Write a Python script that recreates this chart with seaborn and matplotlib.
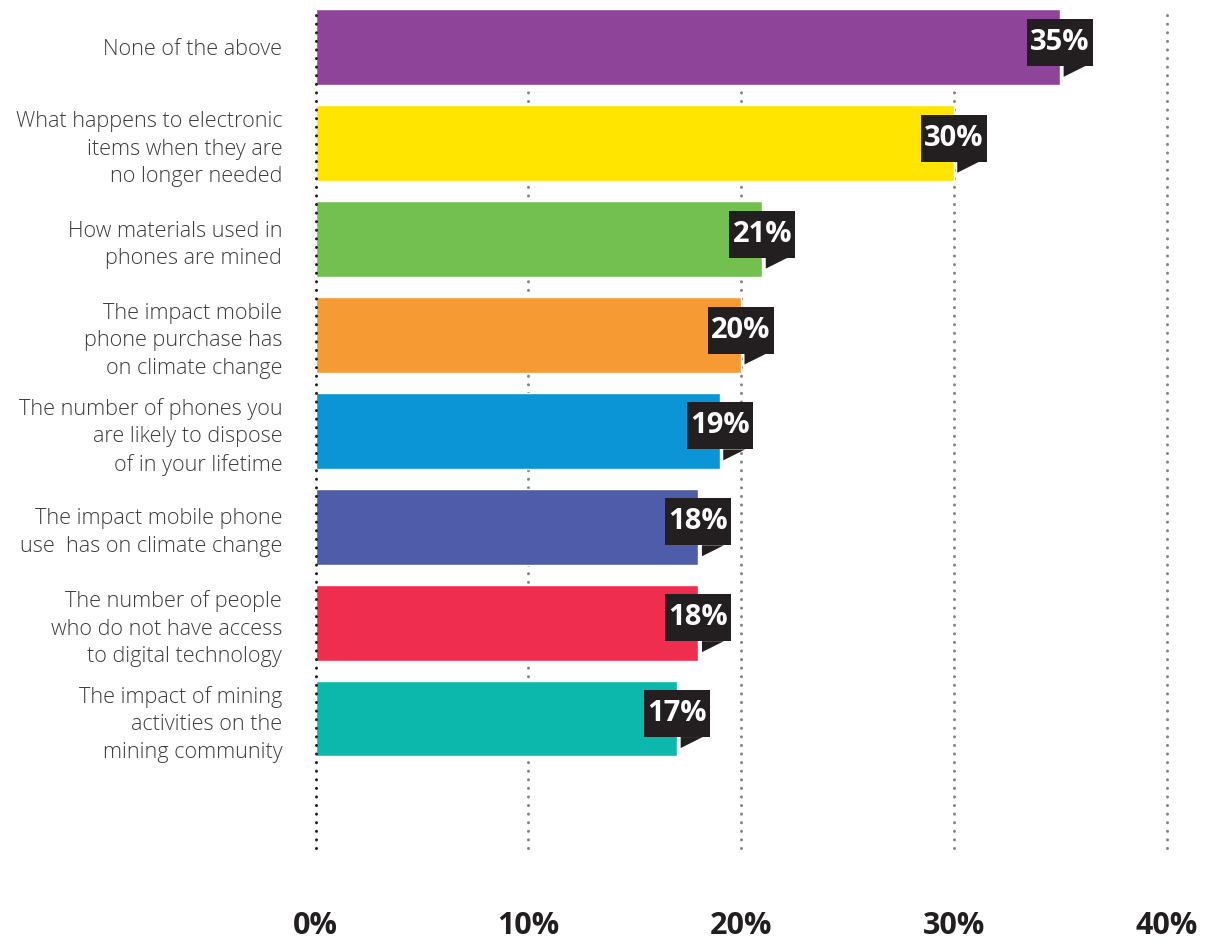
import matplotlib
matplotlib.use("Agg")
import matplotlib.pyplot as plt
import matplotlib.transforms as mtransforms
from matplotlib.patches import Polygon
import seaborn as sns
import pandas as pd

# Survey responses: share of respondents per topic
categories = [
    "None of the above",
    "What happens to electronic\nitems when they are\nno longer needed",
    "How materials used in\nphones are mined",
    "The impact mobile\nphone purchase has\non climate change",
    "The number of phones you\nare likely to dispose\nof in your lifetime",
    "The impact mobile phone\nuse  has on climate change",
    "The number of people\nwho do not have access\nto digital technology",
    "The impact of mining\nactivities on the\nmining community",
]
values = [35, 30, 21, 20, 19, 18, 18, 17]
colors = ["#8e4498", "#ffe500", "#73c050", "#f69a34", "#0b94d6",
          "#4e5ca9", "#ef2d4f", "#0bb8ab"]
x_ticks = [0, 10, 20, 30, 40]
x_tick_labels = ["0%", "10%", "20%", "30%", "40%"]

df = pd.DataFrame({"topic": categories, "share": values})

sns.set_theme(style="white")
plt.rcParams["font.family"] = ["Open Sans", "DejaVu Sans"]

fig = plt.figure(figsize=(12.17, 9.41), dpi=100)
ax = fig.add_axes([315.5 / 1217, 1 - 848 / 941, 851 / 1217, (848 - 9) / 941])

sns.barplot(data=df, x="share", y="topic", hue="topic", palette=colors,
            legend=False, orient="h", width=0.79, ax=ax, zorder=3,
            saturation=1)

ax.set_xlim(0, 40)
ax.set_ylim(8.35, -0.4)

# Dotted vertical gridlines; the zero line sits on top of the bars
dot_style = (0, (0.01, 2.8))
for t in x_ticks:
    ax.axvline(t, color="#231f20" if t == 0 else "#858585", lw=2.2,
               linestyle=dot_style, dash_capstyle="round",
               zorder=4 if t == 0 else 1, clip_on=False)

for side in ["top", "right", "bottom", "left"]:
    ax.spines[side].set_visible(False)

ax.set_xlabel("")
ax.set_ylabel("")
ax.set_xticks(x_ticks)
ax.set_xticklabels(x_tick_labels, fontsize=22, fontweight="bold", color="#231f20")
ax.tick_params(axis="x", length=0, pad=45)
ax.tick_params(axis="y", length=0, pad=24)
for lab in ax.get_yticklabels():
    lab.set_fontsize(15.6)
    lab.set_fontweight(300)
    lab.set_color("#3c3c3c")
    lab.set_linespacing(1.42)
    lab.set_horizontalalignment("right")
    lab.set_multialignment("right")

# Value call-outs: dark box with a small tail, anchored at each bar end
dpi = fig.dpi
box = [(-33, -18.5), (33, -18.5), (33, 28.5), (-33, 28.5), (-33, -18.5)]
tail = [(3.5, -18.5), (3.5, -29.5), (25.5, -18.5)]
for i, v in enumerate(values):
    anchor = mtransforms.ScaledTranslation(v, i, ax.transData)
    trans = fig.dpi_scale_trans + anchor
    for shape in (box, tail):
        ax.add_patch(Polygon([(px / dpi, py / dpi) for px, py in shape],
                             closed=True, facecolor="#231f20", edgecolor="none",
                             transform=trans, zorder=5, clip_on=False))
    ax.text(0, 5 / dpi, f"{v}%", transform=trans, ha="center", va="center",
            fontsize=21, fontweight="bold", color="white", zorder=6)

fig.savefig("out.png", dpi=100)
